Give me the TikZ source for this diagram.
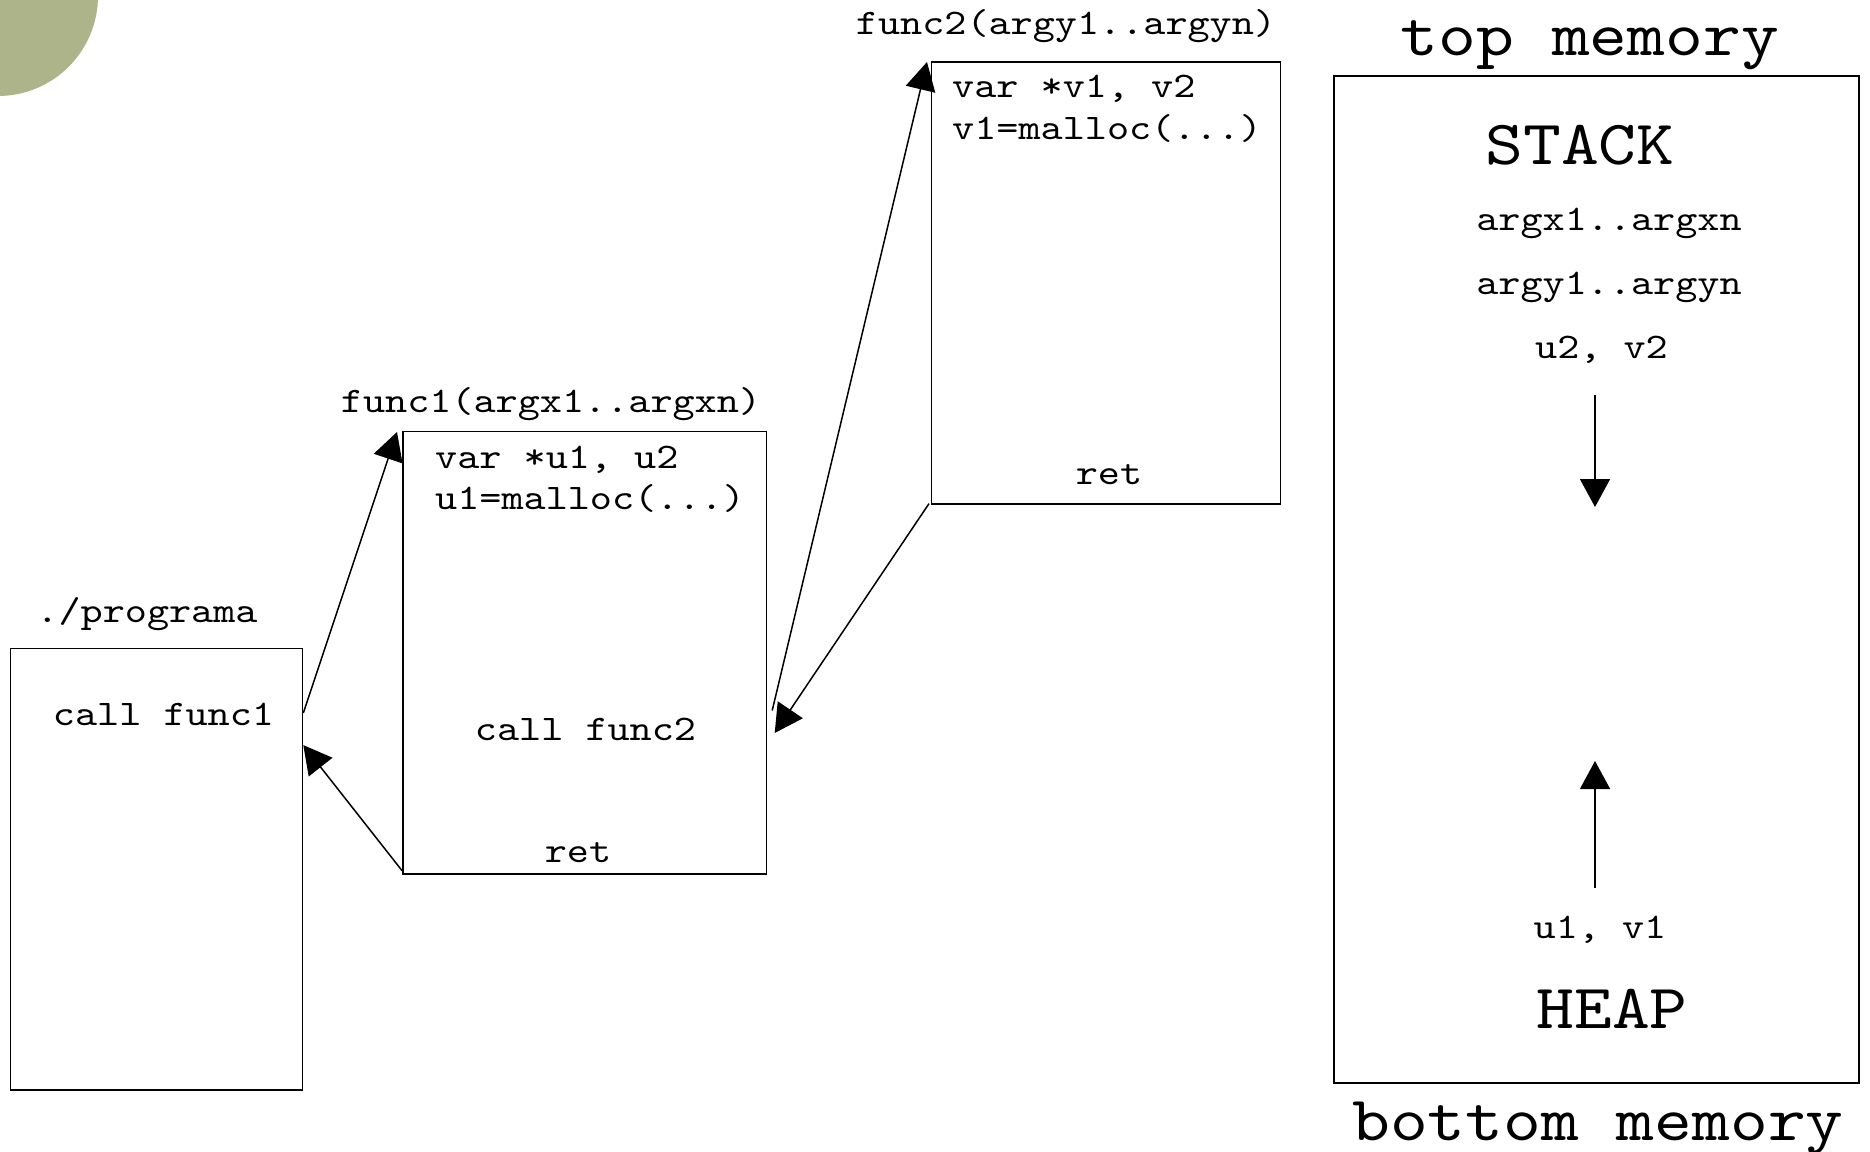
\documentclass[tikz,border=0pt]{standalone}
\usepackage{fontspec}
\newfontfamily\cour[FakeStretch=1.143]{lmmono10-regular.otf}
\newfontfamily\courS[FakeStretch=1.17]{lmmono10-regular.otf}
\usetikzlibrary{arrows.meta}
\definecolor{blob}{HTML}{ADB489}
\tikzset{
  box/.style={draw, line width=1.6pt, inner sep=0pt, anchor=north west},
  sm/.style={font=\courS\fontsize{36}{40}\selectfont, inner sep=0pt, anchor=base},
  smw/.style={sm, anchor=base west},
  lg/.style={font=\cour\fontsize{63}{70}\selectfont, inner sep=0pt, anchor=base},
  conn/.style={line width=1.5pt, -{Triangle[length=28pt,width=30pt]}}
}
\begin{document}
\begin{tikzpicture}[x=1pt,y=-1pt]
\useasboundingbox (0,0) rectangle (1870,1151);
\begin{scope}
\clip (0,0) rectangle (1870,1151);
\fill[blob] (-2,-4) circle[radius=100];
\end{scope}
% boxes
\node[box, minimum width=292.2pt, minimum height=441.3pt] (prog) at (9.5,647.6) {};
\node[box, minimum width=363.6pt, minimum height=442.5pt] (fone) at (402,430.5) {};
\node[box, minimum width=349.2pt, minimum height=442pt] (ftwo) at (930.5,61) {};
\node[box, minimum width=525pt, minimum height=1007pt] (mem) at (1333,75) {};
% labels
\node[sm] (lprog) at (147,622) {./programa};
\node[sm] (cf1) at (163.5,725) {call func1};
\node[sm] (lf1) at (551,412) {func1(argx1..argxn)};
\node[smw] (va1) at (435,468) {var *u1, u2};
\node[smw] (ma1) at (435,509) {u1=malloc(...)};
\node[sm] (cf2) at (585.5,740) {call func2};
\node[sm] (ret1) at (578,862) {ret};
\node[sm] (lf2) at (1066,34) {func2(argy1..argyn)};
\node[smw] (va2) at (952,97) {var *v1, v2};
\node[smw] (ma2) at (952,139) {v1=malloc(...)};
\node[sm] (ret2) at (1109,484) {ret};
\node[lg] (top) at (1590,55) {top memory};
\node[lg] (stack) at (1580,164) {STACK};
\node[sm] (ax) at (1609,230) {argx1..argxn};
\node[sm] (ay) at (1609,294) {argy1..argyn};
\node[sm] (uv2) at (1601.5,358) {u2, v2};
\node[sm] (uv1) at (1600,938) {u1, v1};
\node[lg] (heap) at (1612,1028) {HEAP};
\node[lg] (bot) at (1598,1140) {bottom memory};
% connectors
\draw[conn] ([yshift=-65.4pt]prog.north east) -- ([xshift=-5pt,yshift=-1.5pt]fone.north west);
\draw[conn] ([yshift=4pt]fone.south west) -- ([yshift=-97.5pt]prog.north east);
\draw[conn] ([xshift=5pt,yshift=-280pt]fone.north east) -- ([xshift=-3.5pt,yshift=-1pt]ftwo.north west);
\draw[conn] ([xshift=-1.5pt,yshift=1pt]ftwo.south west) -- ([xshift=7.5pt,yshift=-302.5pt]fone.north east);
\coordinate (sd0) at (1595,395);
\coordinate (sd1) at (1595,507);
\coordinate (hu0) at (1595,888);
\coordinate (hu1) at (1595,761);
\draw[conn] (sd0) -- (sd1);
\draw[conn] (hu0) -- (hu1);
\end{tikzpicture}
\end{document}
